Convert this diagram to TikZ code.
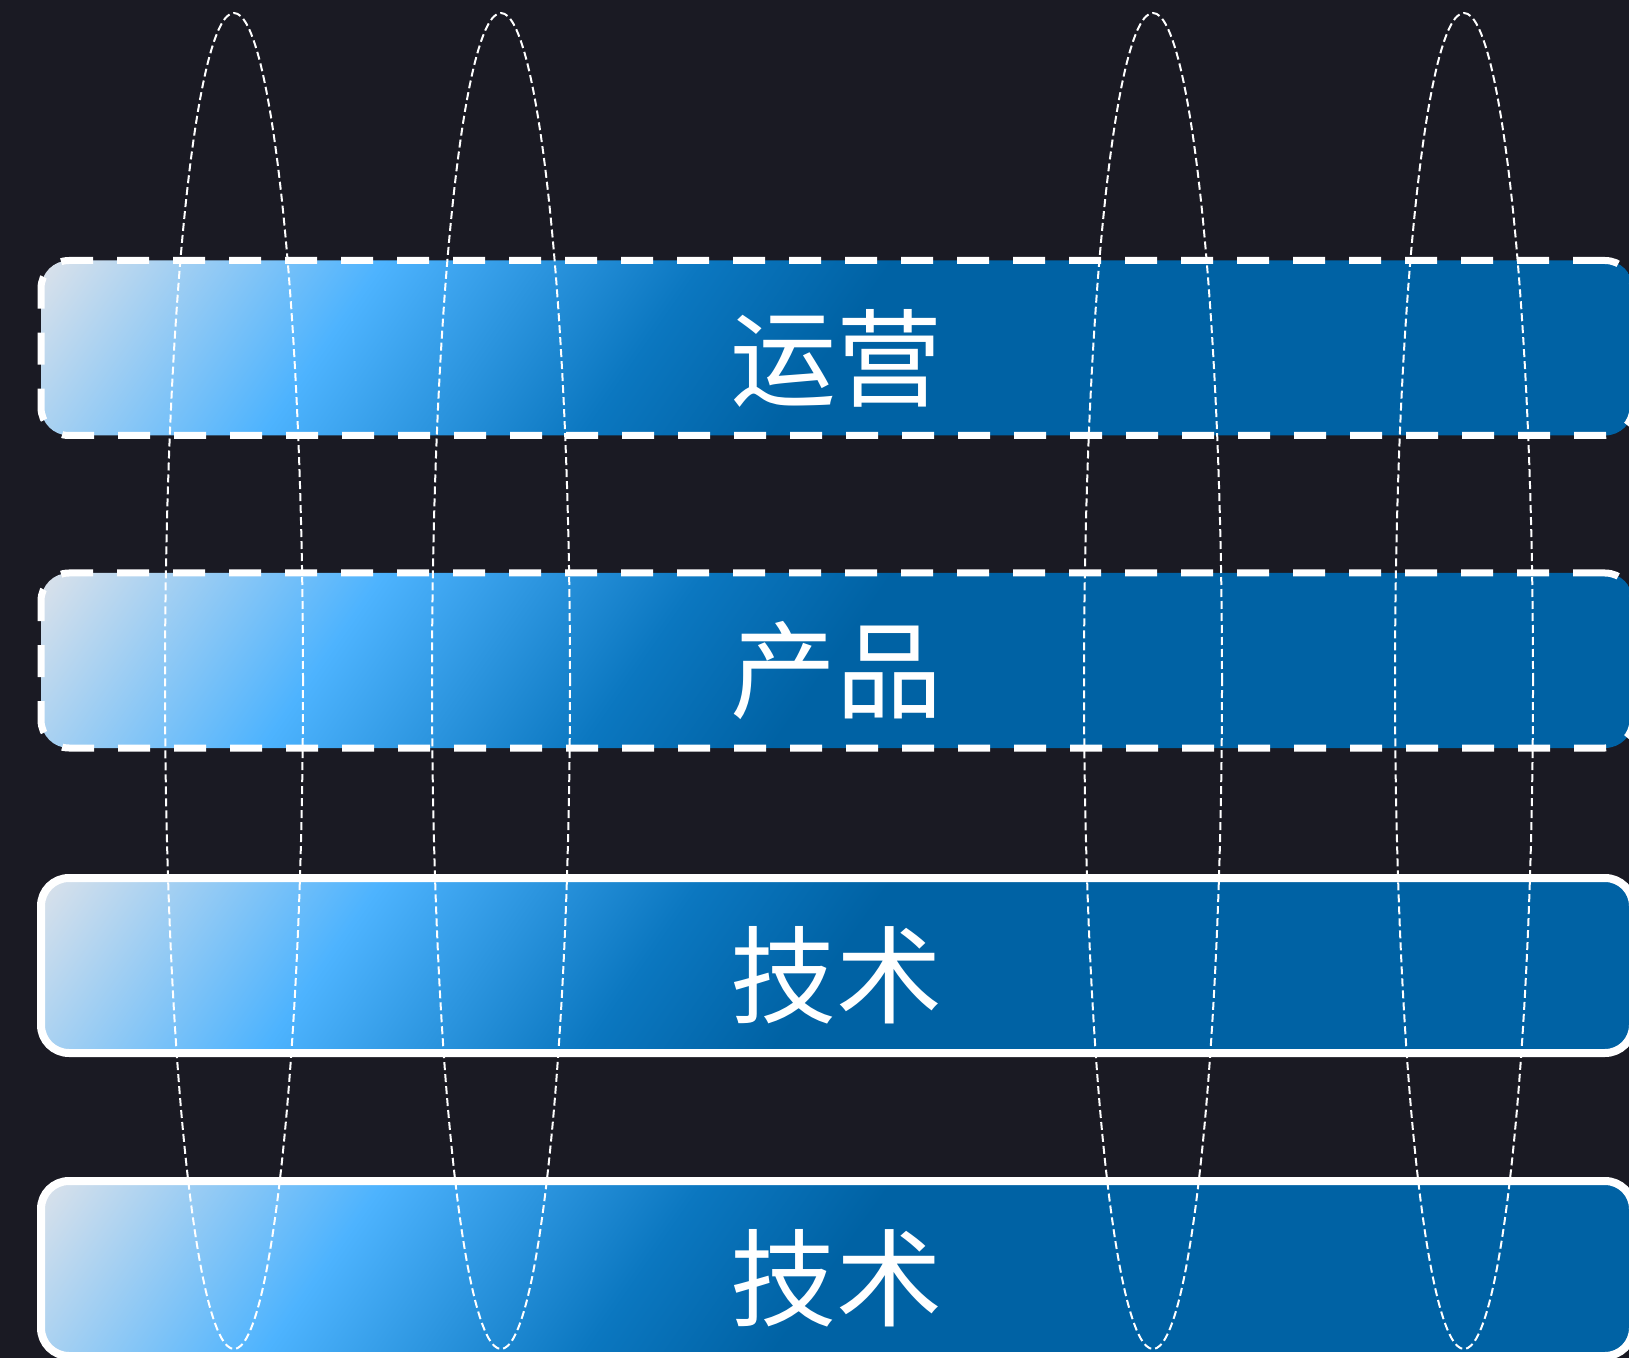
\documentclass[tikz,border=0pt]{standalone}
\usepackage{fontspec}
\newfontfamily\cjk{Noto Sans CJK SC}

\definecolor{bgdark}{HTML}{1A1A23}
\definecolor{boxgray}{HTML}{DCE2EA}
\definecolor{boxsky}{HTML}{4DB3FE}
\definecolor{boxmid}{HTML}{0B77C0}
\definecolor{boxdeep}{HTML}{0062A4}

\pgfdeclarehorizontalshading{boxgrad}{100bp}{color(0bp)=(boxgray); color(30.5bp)=(boxgray); color(38.3bp)=(boxsky); color(45.6bp)=(boxmid); color(49.9bp)=(boxdeep); color(100bp)=(boxdeep)}

\tikzset{
  layer/.style={rounded corners=14pt, minimum width=796pt, minimum height=87.5pt,
    inner sep=0pt, draw=white,
    path picture={\shade[shading=boxgrad, shading angle=-35]
      ([shift={(-450pt,-450pt)}]path picture bounding box.center) rectangle
      ([shift={(450pt,450pt)}]path picture bounding box.center);}},
  solidlayer/.style={layer, line width=4pt},
  dashlayer/.style={layer, line width=3.5pt, dash pattern=on 16pt off 12pt},
  lbl/.style={text=white, font=\cjk\fontsize{53pt}{60pt}\selectfont, inner sep=0pt},
  ring/.style={draw=white, line width=1pt, dash pattern=on 4pt off 2pt}
}

\begin{document}
\begin{tikzpicture}[x=0.5pt, y=-0.5pt]
   \fill[bgdark] (0,0) rectangle (1629,1358);
   \useasboundingbox (0,0) rectangle (1629,1358);

   \node[dashlayer] (ops) at (837,348) {};
   \node[dashlayer] (prod) at (837,660.5) {};
   \node[solidlayer] (techA) at (837,965.5) {};
   \node[solidlayer] (techB) at (837,1268.5) {};

   \node[lbl] (opsT) at ([xshift=-0.5pt,yshift=-5pt]ops.center) {运营};
   \node[lbl] (prodT) at ([xshift=-0.5pt,yshift=-5pt]prod.center) {产品};
   \node[lbl] (techAT) at ([xshift=-0.5pt,yshift=-5pt]techA.center) {技术};
   \node[lbl] (techBT) at ([xshift=-0.5pt,yshift=-5pt]techB.center) {技术};

   \foreach \cx in {234,501,1153,1464}
   \draw[ring] (\cx,681) ellipse [x radius=34.5pt, y radius=334pt];

\end{tikzpicture}
\end{document}
